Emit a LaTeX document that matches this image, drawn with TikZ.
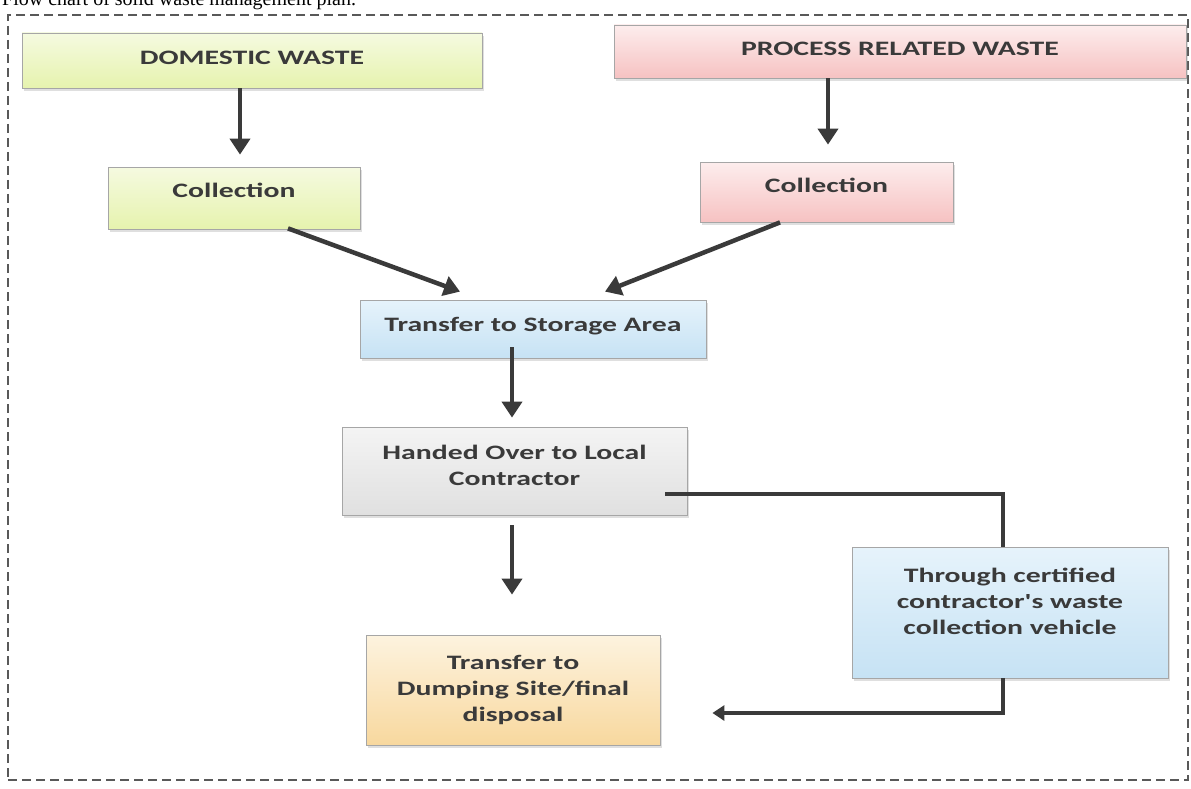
\documentclass[tikz,border=0pt]{standalone}
\usepackage{fontspec}
\newfontfamily\boxfont{Carlito}[FakeStretch=1.45]
\newfontfamily\capfont{Liberation Serif}
\usetikzlibrary{arrows.meta,shadows}
\definecolor{ink}{HTML}{3A3A3A}
\definecolor{grnT}{HTML}{F5FAE0}
\definecolor{grnB}{HTML}{E6F3AE}
\definecolor{pnkT}{HTML}{FDEDED}
\definecolor{pnkB}{HTML}{F6C2C2}
\definecolor{bluT}{HTML}{E6F3FB}
\definecolor{bluB}{HTML}{C6E2F4}
\definecolor{gryT}{HTML}{F4F4F4}
\definecolor{gryB}{HTML}{E0E0E0}
\definecolor{orgT}{HTML}{FDF3DF}
\definecolor{orgB}{HTML}{F8D89E}
\begin{document}
\begin{tikzpicture}[x=1pt,y=-1pt,
  box/.style={draw=black!35, line width=0.8pt, inner sep=0pt, align=center,
    font=\boxfont\bfseries\fontsize{20.5}{26}\selectfont, text=ink,
    drop shadow={shadow xshift=2pt, shadow yshift=-3pt, opacity=0.25, fill=black!50}},
  flow/.style={draw=ink, line width=4.5pt, -{Triangle[width=20pt,length=16pt]}},
  elbow/.style={draw=ink, line width=3.5pt},
  elbowarrow/.style={elbow, -{Triangle[width=15pt,length=12pt]}}]
\useasboundingbox (0,0) rectangle (1191,789);
\fill[white] (0,0) rectangle (1191,789);
\node[anchor=base west, inner sep=0pt, font=\capfont\fontsize{20}{24}\selectfont] (cap) at (2,6) {Flow chart of solid waste management plan.};
\node[draw=black!65, dash pattern=on 9pt off 5pt, line width=1.3pt, minimum width=1180, minimum height=765, inner sep=0pt] (frame) at (598,397.5) {};
% boxes
\node[box, top color=grnT, bottom color=grnB, minimum width=460, minimum height=55, text depth=6pt] (dom) at (252,60.5) {DOMESTIC WASTE};
\node[box, top color=pnkT, bottom color=pnkB, minimum width=572, minimum height=53, text depth=6pt] (proc) at (900,51.5) {PROCESS RELATED WASTE};
\node[box, top color=grnT, bottom color=grnB, minimum width=252, minimum height=62, text depth=16pt] (collL) at (234,198) {Collection};
\node[box, top color=pnkT, bottom color=pnkB, minimum width=253, minimum height=60, text depth=14pt] (collR) at (826.5,192) {Collection};
\node[box, top color=bluT, bottom color=bluB, minimum width=346, minimum height=58, text depth=8.5pt] (stor) at (533,329) {Transfer to Storage Area};
\node[box, top color=gryT, bottom color=gryB, minimum width=345, minimum height=88, text depth=12pt] (hand) at (514.5,471) {Handed Over to Local\\Contractor};
\node[box, top color=bluT, bottom color=bluB, minimum width=316, minimum height=131, text depth=22pt] (thr) at (1010,612.5) {Through certified\\contractor's waste\\collection vehicle};
\node[box, top color=orgT, bottom color=orgB, minimum width=294, minimum height=110] (dump) at (513,690) {Transfer to\\Dumping Site/final\\disposal};
% connectors
\draw[flow] ([xshift=-12pt]dom.south) -- ([xshift=6pt,yshift=12pt]collL.north);
\draw[flow] ([xshift=-72pt]proc.south) -- ([xshift=1.5pt,yshift=17pt]collR.north);
\draw[flow] ([xshift=54pt,yshift=1pt]collL.south) -- ([xshift=-73pt,yshift=8pt]stor.north);
\draw[flow] ([xshift=-46.5pt]collR.south) -- ([xshift=72pt,yshift=8pt]stor.north);
\draw[flow] ([xshift=-21pt,yshift=11pt]stor.south) -- ([xshift=-2.5pt,yshift=9pt]hand.north);
\draw[flow] ([xshift=-2.5pt,yshift=-10pt]hand.south) -- ([xshift=-1pt,yshift=40pt]dump.north);
\draw[elbow] ([xshift=-22pt,yshift=-23pt]hand.east) -| ([xshift=-7pt]thr.north);
\draw[elbowarrow] ([xshift=-7pt]thr.south) |- ([xshift=52pt,yshift=-23pt]dump.east);
\end{tikzpicture}
\end{document}
